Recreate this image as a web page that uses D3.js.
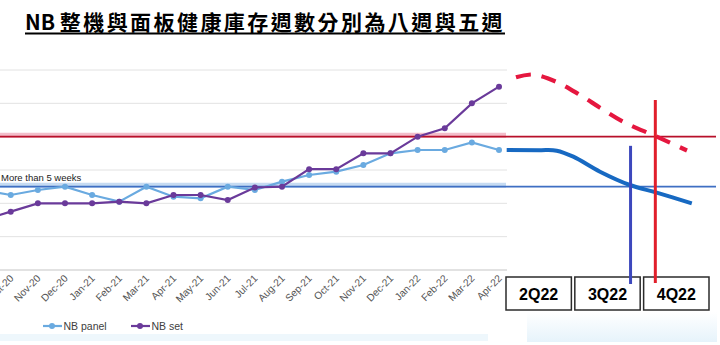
<!DOCTYPE html>
<html>
<head>
<meta charset="utf-8">
<script src="https://cdn.jsdelivr.net/npm/d3@7"></script>
<style>
  body { margin: 0; background: #fff; }
  svg { display: block; }
</style>
</head>
<body>
<svg id="chart" width="720" height="345"></svg>
<script>
// ---- data ----
const titleLead = "NB ";
const titleRest = "整機與面板健康庫存週數分別為八週與五週";
const months = ["Sep-20","Oct-20","Nov-20","Dec-20","Jan-21","Feb-21","Mar-21","Apr-21","May-21","Jun-21",
                "Jul-21","Aug-21","Sep-21","Oct-21","Nov-21","Dec-21","Jan-22","Feb-22","Mar-22","Apr-22"];
const panelWeeks = [4.8, 4.5, 4.8, 5.0, 4.5, 4.1, 5.0, 4.4, 4.3, 5.0,
                    4.8, 5.3, 5.7, 5.9, 6.3, 7.0, 7.2, 7.2, 7.65, 7.2];
const setWeeks   = [3.0, 3.5, 4.0, 4.0, 4.0, 4.1, 4.0, 4.5, 4.5, 4.2,
                    4.95, 5.0, 6.05, 6.05, 7.0, 7.0, 8.0, 8.5, 10.0, 11.0];
const yTicks = [0, 2, 4, 6, 8, 10, 12];
const seriesNames = ["NB panel", "NB set"];

// healthy inventory levels (weeks)
const setTarget = 8;
const panelTarget = 5;
const targetLabel = "More than 5 weeks";

// outlook, positioned in quarters from the start of 2Q22
const quarters = ["2Q22", "3Q22", "4Q22"];
const setOutlookQ   = [0.145, 0.392, 0.727, 1.076, 1.366, 1.70, 2.19, 2.63];
const setOutlookW   = [11.56, 11.73, 11.30, 10.5, 9.74, 8.90, 8.0, 7.17];
const panelOutlookQ = [0.01, 0.494, 0.737, 0.978, 1.366, 1.80, 2.19, 2.70];
const panelOutlookW = [7.2, 7.19, 7.16, 6.8, 5.9, 5.1, 4.64, 4.0];
// points where each outlook returns to its healthy level
const panelCrossQ = 1.81, panelCrossTop = 7.45;
const setCrossQ = 2.17, setCrossTop = 10.2;

// ---- drawing ----
const svg = d3.select("#chart");
const W = 720, H = 345;
svg.append("rect").attr("width", W).attr("height", H).attr("fill", "#fff");

// faint backdrop bands
const defs = svg.append("defs");
const grad = defs.append("linearGradient").attr("id", "haze").attr("x1", 0).attr("y1", 0).attr("x2", 0).attr("y2", 1);
grad.append("stop").attr("offset", "0%").attr("stop-color", "#ffffff");
grad.append("stop").attr("offset", "100%").attr("stop-color", "#e6f3fb");
svg.append("rect").attr("x", 0).attr("y", 334).attr("width", 488).attr("height", 7).attr("fill", "#eef7fc");
svg.append("rect").attr("x", 527).attr("y", 312).attr("width", 190).attr("height", 30).attr("fill", "url(#haze)");

const plotRight = 507;
const x = d3.scalePoint().domain(months).range([-16.4, 499]);
const y = d3.scaleLinear().domain([0, 12]).range([270, 70]);
const qBand = d3.scaleBand().domain(quarters).range([506, 709]).paddingInner(0.05);
const qx = q => qBand.range()[0] + q * qBand.step();

// title with underline; the Chinese part is tracked out to fill the title width
const titleX = 25, titleW = 480;
const t = svg.append("text")
  .attr("x", titleX).attr("y", 30)
  .attr("font-family", "'Noto Sans CJK TC', 'Noto Sans CJK SC', sans-serif")
  .attr("font-weight", "bold").attr("font-size", 21).attr("fill", "#000");
t.append("tspan").text(titleLead);
const rest = t.append("tspan").text(titleRest);
const natural = t.node().getComputedTextLength();
const chars = Array.from(titleRest).length;
rest.attr("letter-spacing", Math.max(0, (titleW - natural) / chars));
svg.append("line").attr("x1", titleX).attr("x2", titleX + titleW).attr("y1", 33.5).attr("y2", 33.5)
  .attr("stroke", "#000").attr("stroke-width", 1.8);

// gridlines
svg.append("g").selectAll("line").data(yTicks.filter(d => d > 0)).join("line")
  .attr("x1", 0).attr("x2", plotRight)
  .attr("y1", d => y(d)).attr("y2", d => y(d))
  .attr("stroke", "#e2e2e2").attr("stroke-width", 1);
svg.append("line").attr("x1", 0).attr("x2", plotRight).attr("y1", y(0)).attr("y2", y(0))
  .attr("stroke", "#d9d9d9").attr("stroke-width", 1.5);

// x axis labels (months left of the frame get no label)
const xAxis = d3.axisBottom(x).tickSize(0).tickPadding(0)
  .tickValues(months.filter(m => x(m) > 0));
const gx = svg.append("g").attr("transform", `translate(0,${y(0)})`).call(xAxis);
gx.select(".domain").remove();
gx.selectAll("text")
  .attr("font-family", "'Liberation Sans', Arial, sans-serif")
  .attr("font-size", 10.2).attr("fill", "#555")
  .attr("text-anchor", "end")
  .attr("dy", 0)
  .attr("transform", "translate(3,9) rotate(-45)");

// healthy-level lines
function targetLine(v, halo, core) {
  svg.append("line").attr("x1", 0).attr("x2", 506).attr("y1", y(v) - 1.5).attr("y2", y(v) - 1.5)
    .attr("stroke", halo).attr("stroke-width", 5);
  svg.append("line").attr("x1", 0).attr("x2", 716).attr("y1", y(v)).attr("y2", y(v))
    .attr("stroke", core).attr("stroke-width", 1.6);
}
targetLine(setTarget, "#f3bdca", "#b8102a");
targetLine(panelTarget, "#c6dbf2", "#3f6fc3");

svg.append("text").attr("x", 1).attr("y", 181)
  .attr("font-family", "'Liberation Sans', Arial, sans-serif")
  .attr("font-size", 9.5).attr("fill", "#222")
  .text(targetLabel);

// monthly series
const series = [
  { name: seriesNames[0], values: panelWeeks, color: "#6aaae0" },
  { name: seriesNames[1], values: setWeeks, color: "#6a3a9a" }
];
const line = d3.line().x((d, i) => x(months[i])).y(d => y(d));
series.forEach(s => {
  svg.append("path").attr("d", line(s.values)).attr("fill", "none")
    .attr("stroke", s.color).attr("stroke-width", 2.2);
  svg.append("g").selectAll("circle").data(s.values).join("circle")
    .attr("cx", (d, i) => x(months[i])).attr("cy", d => y(d)).attr("r", 3)
    .attr("fill", s.color);
});

// outlook curves
const outLine = d3.line().curve(d3.curveCatmullRom.alpha(0.5));
svg.append("path")
  .attr("d", outLine(panelOutlookQ.map((q, i) => [qx(q), y(panelOutlookW[i])])))
  .attr("fill", "none").attr("stroke", "#1769c2").attr("stroke-width", 4);
svg.append("path")
  .attr("d", outLine(setOutlookQ.map((q, i) => [qx(q), y(setOutlookW[i])])))
  .attr("fill", "none").attr("stroke", "#e5173f").attr("stroke-width", 4.2)
  .attr("stroke-dasharray", "15 11");

// quarter boxes
const boxTop = 277, boxH = 33;
const boxes = svg.append("g").selectAll("g").data(quarters).join("g");
boxes.append("rect")
  .attr("x", d => qBand(d)).attr("y", boxTop)
  .attr("width", qBand.bandwidth()).attr("height", boxH)
  .attr("fill", "#fff").attr("stroke", "#2b2b2b").attr("stroke-width", 1.5);
boxes.append("text")
  .attr("x", d => qBand(d) + qBand.bandwidth() / 2).attr("y", boxTop + boxH / 2 + 1)
  .attr("text-anchor", "middle").attr("dominant-baseline", "central")
  .attr("font-family", "'Liberation Sans', Arial, sans-serif")
  .attr("font-weight", "bold").attr("font-size", 16).attr("fill", "#000")
  .text(d => d);

// markers where the outlook meets the healthy level
svg.append("line").attr("x1", qx(panelCrossQ)).attr("x2", qx(panelCrossQ))
  .attr("y1", y(panelCrossTop)).attr("y2", boxTop + 7)
  .attr("stroke", "#3d48bd").attr("stroke-width", 3);
svg.append("line").attr("x1", qx(setCrossQ)).attr("x2", qx(setCrossQ))
  .attr("y1", y(setCrossTop)).attr("y2", boxTop + 6)
  .attr("stroke", "#e11f2b").attr("stroke-width", 3);

// legend
const legend = svg.append("g").attr("transform", "translate(43,326)");
const lg = legend.selectAll("g").data(series).join("g")
  .attr("transform", (d, i) => `translate(${i * 88},0)`);
lg.append("line").attr("x1", 0).attr("x2", 19).attr("y1", 0).attr("y2", 0)
  .attr("stroke", d => d.color).attr("stroke-width", 2.2);
lg.append("circle").attr("cx", 9).attr("cy", 0).attr("r", 3).attr("fill", d => d.color);
lg.append("text").attr("x", 20.5).attr("y", 0).attr("dominant-baseline", "central")
  .attr("font-family", "'Liberation Sans', Arial, sans-serif")
  .attr("font-size", 10.5).attr("fill", "#404040")
  .text(d => d.name);
</script>
</body>
</html>
